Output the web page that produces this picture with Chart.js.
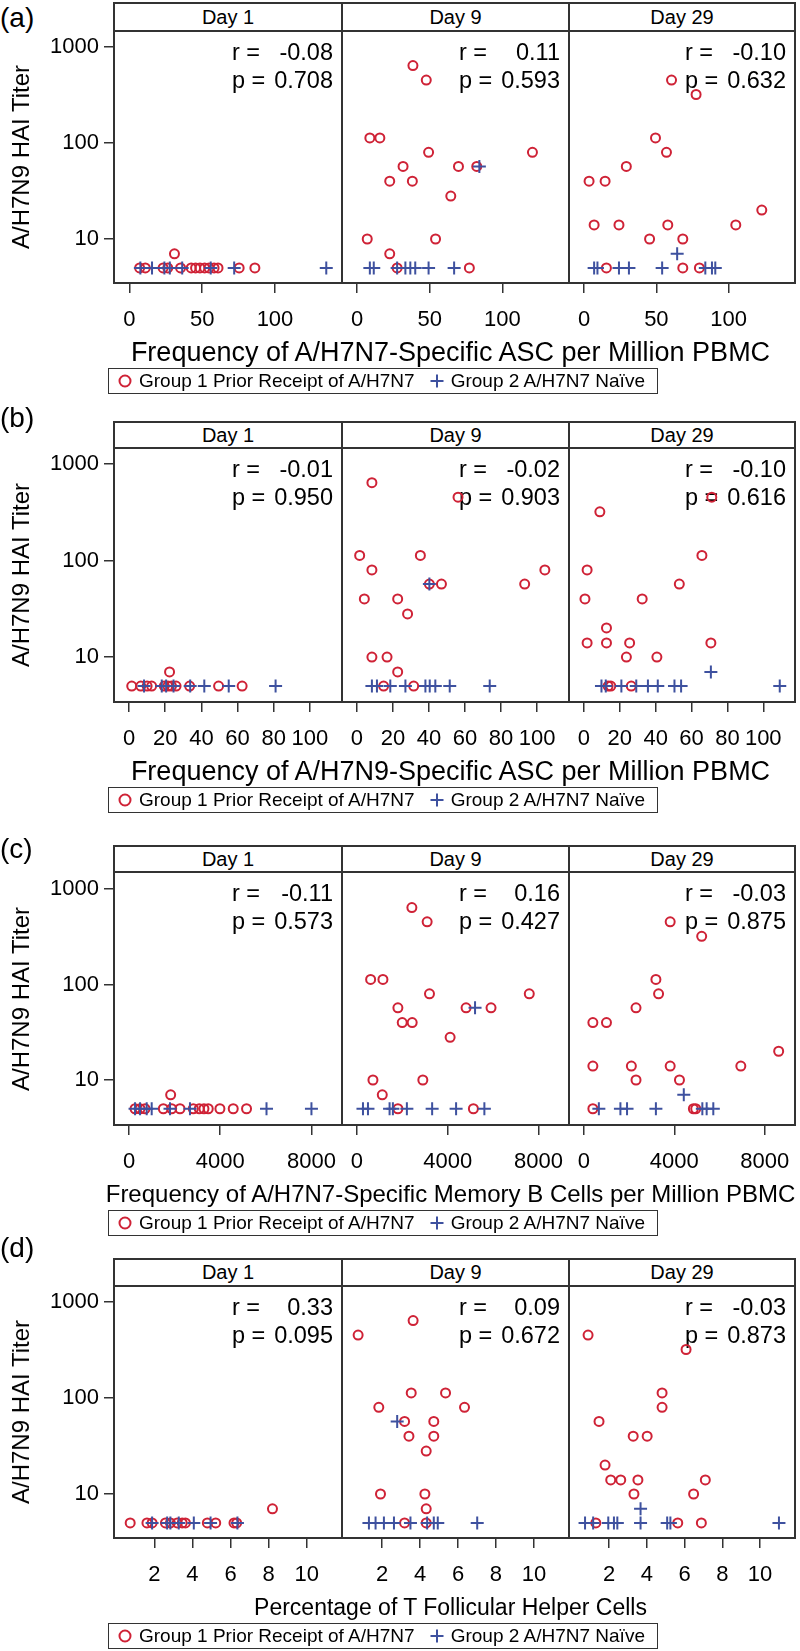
<!DOCTYPE html>
<html><head><meta charset="utf-8">
<script src="https://cdn.jsdelivr.net/npm/chart.js@4.4.0/dist/chart.umd.min.js"></script>
<style>
html,body{margin:0;padding:0;background:#fff}
body{width:800px;height:1651px;position:relative;overflow:hidden;font-family:"Liberation Sans",Arial,Helvetica,sans-serif;color:#000}
.hdr{position:absolute;box-sizing:border-box;border:2px solid #333;background:#fff;text-align:center;font-size:20px}
.rowlab{position:absolute;left:0;font-size:28px;line-height:28px}
.ytitle{position:absolute;font-size:24px;white-space:nowrap;transform:translate(-50%,-50%) rotate(-90deg);}
.xtitle{position:absolute;white-space:nowrap;transform:translate(-50%,-50%);}
.legend{position:absolute;box-sizing:border-box;border:1.5px solid #333;display:flex;align-items:center;font-size:19px;white-space:nowrap;padding-left:8px}
.legend span.item{display:flex;align-items:center;margin-right:14px}
.legend svg{margin-right:6px}
</style></head><body>
<script>
// ---------------- data ----------------
const dayLabels = ["Day 1", "Day 9", "Day 29"];
const rowLabels = ["(a)", "(b)", "(c)", "(d)"];
const xTitles = [
  "Frequency of A/H7N7-Specific ASC per Million PBMC",
  "Frequency of A/H7N9-Specific ASC per Million PBMC",
  "Frequency of A/H7N7-Specific Memory B Cells per Million PBMC",
  "Percentage of T Follicular Helper Cells"
];
const yTitle = "A/H7N9 HAI Titer";
const group1Label = "Group 1 Prior Receipt of A/H7N7";
const group2Label = "Group 2 A/H7N7 Naïve";
const rVals = [["-0.08", "0.11", "-0.10"], ["-0.01", "-0.02", "-0.10"], ["-0.11", "0.16", "-0.03"], ["0.33", "0.09", "-0.03"]];
const pVals = [["0.708", "0.593", "0.632"], ["0.950", "0.903", "0.616"], ["0.573", "0.427", "0.875"], ["0.095", "0.672", "0.873"]];
const xTicksA = [0, 50, 100];
const xTicksB = [0, 20, 40, 60, 80, 100];
const xTicksC = [0, 4000, 8000];
const xTicksD = [2, 4, 6, 8, 10];
const yTicks = [10, 100, 1000];

// (a) A/H7N7 ASC
const a1RedX = [7.1, 11, 23.2, 26.4, 31, 35.2, 42.5, 45.5, 48.5, 51.7, 54.7, 58.2, 60.9, 75.4, 86.2];
const a1RedY = [5, 5, 5, 5, 7, 5, 5, 5, 5, 5, 5, 5, 5, 5, 5];
const a1BlueX = [7.6, 15.6, 24.1, 27.8, 36.3, 55.9, 72, 135.2];
const a1BlueY = [5, 5, 5, 5, 5, 5, 5, 5];
const a9RedX = [38.4, 47.6, 8.7, 15.6, 49.2, 31.6, 69.8, 82.4, 120.8, 22.4, 38.0, 64.5, 6.9, 54.0, 22.4, 27.5, 77.3];
const a9RedY = [640, 453, 113, 113, 80, 57, 57, 57, 80, 40, 40, 28, 10, 10, 7, 5, 5];
const a9BlueX = [84.2, 8.7, 11.4, 27.5, 33.2, 36.6, 40.0, 49.2, 66.8];
const a9BlueY = [57, 5, 5, 5, 5, 5, 5, 5, 5];
const a29RedX = [60.5, 77.5, 49.4, 57, 29.2, 3.4, 14.5, 6.9, 24.1, 57.9, 105, 123, 45.3, 68.3, 15.4, 68.3, 79.8];
const a29RedY = [453, 320, 113, 80, 57, 40, 40, 14, 14, 14, 14, 20, 10, 10, 5, 5, 5];
const a29BlueX = [64.4, 6.9, 9.2, 24.1, 31, 54, 83.9, 88.5, 90.8];
const a29BlueY = [7, 5, 5, 5, 5, 5, 5, 5, 5];

// (b) A/H7N9 ASC
const b1RedX = [1.5, 6.5, 10, 12.5, 19.5, 21.5, 23.5, 26, 33.5, 49.5, 62.5, 22.4];
const b1RedY = [5, 5, 5, 5, 5, 5, 5, 5, 5, 5, 5, 7];
const b1BlueX = [8.3, 18.1, 20.5, 24.6, 33.8, 41.6, 55.1, 81];
const b1BlueY = [5, 5, 5, 5, 5, 5, 5, 5];
const b9RedX = [8.3, 56.1, 1.5, 35.2, 8.3, 104.3, 40.2, 46.9, 93.1, 4.1, 22.6, 28.1, 8.3, 16.7, 22.6, 14.8, 31.5];
const b9RedY = [640, 453, 113, 113, 80, 80, 57, 57, 57, 40, 40, 28, 10, 10, 7, 5, 5];
const b9BlueX = [40.2, 8.3, 11.1, 18.5, 26.9, 38, 40.4, 43.5, 51.5, 73.7];
const b9BlueY = [57, 5, 5, 5, 5, 5, 5, 5, 5, 5];
const b29RedX = [71.3, 8.9, 65.8, 1.8, 53.2, 0.6, 32.5, 12.6, 1.8, 12.6, 25.5, 70.8, 23.7, 40.7, 13.5, 15, 26.4];
const b29RedY = [453, 320, 113, 80, 57, 40, 40, 20, 14, 14, 14, 14, 10, 10, 5, 5, 5];
const b29BlueX = [70.8, 9.8, 12.2, 20.9, 29.2, 35.7, 41.2, 50.5, 54.2, 109.2];
const b29BlueY = [7, 5, 5, 5, 5, 5, 5, 5, 5, 5];

// (c) A/H7N7 memory B cells
const c1RedX = [263, 482, 701, 1504, 1869, 2234, 2818, 3080, 3285, 3474, 3985, 4569, 5153, 1825];
const c1RedY = [5, 5, 5, 5, 5, 5, 5, 5, 5, 5, 5, 5, 5, 7];
const c1BlueX = [263, 482, 774, 993, 1796, 2672, 6029, 8000];
const c1BlueY = [5, 5, 5, 5, 5, 5, 5, 5];
const c9RedX = [2418, 3091, 601, 1143, 3194, 7590, 1802, 4806, 5905, 1993, 2432, 4103, 703, 2901, 1114, 1802, 5128];
const c9RedY = [640, 453, 113, 113, 80, 80, 57, 57, 57, 40, 40, 28, 10, 10, 7, 5, 5];
const c9BlueX = [5201, 264, 484, 1436, 1582, 2198, 3311, 4366, 5612];
const c9BlueY = [57, 5, 5, 5, 5, 5, 5, 5, 5];
const c29RedX = [3817, 5211, 3185, 3303, 2305, 396, 998, 396, 2099, 3817, 6943, 8617, 2305, 4228, 396, 4844, 4947];
const c29RedY = [453, 320, 113, 80, 57, 40, 40, 14, 14, 14, 14, 20, 10, 10, 5, 5, 5];
const c29BlueX = [4419, 661, 1615, 1908, 3185, 5240, 5431, 5725];
const c29BlueY = [7, 5, 5, 5, 5, 5, 5, 5];

// (d) Tfh cells
const d1RedX = [0.73, 1.61, 1.88, 2.58, 2.84, 3.2, 3.46, 3.63, 4.78, 5.22, 6.18, 6.32, 8.2];
const d1RedY = [5, 5, 5, 5, 5, 5, 5, 5, 5, 5, 5, 5, 7];
const d1BlueX = [1.88, 2.67, 2.84, 3.28, 4.07, 4.95, 6.36];
const d1BlueY = [5, 5, 5, 5, 5, 5, 5];
const d9RedX = [3.63, 0.73, 3.53, 5.34, 1.82, 6.34, 3.18, 4.72, 3.41, 4.72, 4.32, 1.91, 4.25, 4.32, 3.18, 4.32];
const d9RedY = [640, 453, 113, 113, 80, 80, 57, 57, 40, 40, 28, 10, 10, 7, 5, 5];
const d9BlueX = [2.79, 1.3, 1.65, 2.09, 2.62, 3.49, 4.37, 4.72, 4.93, 7.01];
const d9BlueY = [57, 5, 5, 5, 5, 5, 5, 5, 5, 5];
const d29RedX = [0.89, 6.08, 4.81, 4.81, 1.47, 3.28, 4.02, 1.79, 2.09, 2.62, 3.53, 7.1, 3.32, 6.48, 1.3, 5.64, 6.89];
const d29RedY = [453, 320, 113, 80, 57, 40, 40, 20, 14, 14, 14, 14, 10, 10, 5, 5, 5];
const d29BlueX = [3.67, 0.73, 1.16, 1.96, 2.26, 2.44, 3.67, 5.08, 5.25, 11.0];
const d29BlueY = [7, 5, 5, 5, 5, 5, 5, 5, 5, 5];

// ---------------- assembly ----------------
const panelData = [
  [[a1RedX, a1RedY, a1BlueX, a1BlueY], [a9RedX, a9RedY, a9BlueX, a9BlueY], [a29RedX, a29RedY, a29BlueX, a29BlueY]],
  [[b1RedX, b1RedY, b1BlueX, b1BlueY], [b9RedX, b9RedY, b9BlueX, b9BlueY], [b29RedX, b29RedY, b29BlueX, b29BlueY]],
  [[c1RedX, c1RedY, c1BlueX, c1BlueY], [c9RedX, c9RedY, c9BlueX, c9BlueY], [c29RedX, c29RedY, c29BlueX, c29BlueY]],
  [[d1RedX, d1RedY, d1BlueX, d1BlueY], [d9RedX, d9RedY, d9BlueX, d9BlueY], [d29RedX, d29RedY, d29BlueX, d29BlueY]]
];
const xTickSets = [xTicksA, xTicksB, xTicksC, xTicksD];

// layout / style
const RED = "#cf2236", BLUE = "#3e519f", FRAME = "#333";
const PANEL_X = [114, 342, 569, 795];
const X_AXIS_H = 60;
const ROWS = [
  {labelTop: 4,    headerTop: 3,    plotTop: 31,   plotBottom: 283,  xMin: -10.5, xMax: 146,   yMin: 3.48, yMax: 1468, titleSize: 27},
  {labelTop: 404,  headerTop: 422,  plotTop: 448,  plotBottom: 702,  xMin: -8.3,  xMax: 117.7, yMin: 3.42, yMax: 1466, titleSize: 27},
  {labelTop: 835,  headerTop: 846,  plotTop: 872,  plotBottom: 1125, xMin: -660,  xMax: 9340,  yMin: 3.38, yMax: 1507, titleSize: 24},
  {labelTop: 1234, headerTop: 1259, plotTop: 1286, plotBottom: 1538, xMin: -0.12, xMax: 11.85, yMin: 3.48, yMax: 1468, titleSize: 23}
];

Chart.defaults.font.family = "'Liberation Sans', Arial, Helvetica, sans-serif";
Chart.defaults.color = "#000";

const framePlugin = {
  id: "frame",
  afterDraw(chart) {
    const {ctx, chartArea: a} = chart;
    ctx.save();
    ctx.strokeStyle = FRAME; ctx.lineWidth = 2;
    ctx.strokeRect(a.left, a.top, a.right - a.left, a.bottom - a.top);
    ctx.restore();
  }
};
const statsPlugin = {
  id: "stats",
  beforeDatasetsDraw(chart, args, opts) {
    const {ctx, chartArea: a} = chart;
    ctx.save();
    ctx.fillStyle = "#000";
    ctx.font = "23.5px 'Liberation Sans', Arial, sans-serif";
    ctx.textBaseline = "alphabetic";
    ctx.textAlign = "left";
    ctx.fillText("r =", a.right - 110, a.top + 29);
    ctx.fillText("p =", a.right - 110, a.top + 57);
    ctx.textAlign = "right";
    ctx.fillText(opts.r, a.right - 9, a.top + 29);
    ctx.fillText(opts.p, a.right - 9, a.top + 57);
    ctx.restore();
  }
};

function pts(xs, ys) { return xs.map((x, i) => ({x: x, y: ys[i]})); }

function addDiv(cls, text, css) {
  const d = document.createElement("div");
  d.className = cls; d.textContent = text; d.style.cssText = css;
  document.body.appendChild(d);
  return d;
}

function makePanel(r, c) {
  const g = ROWS[r];
  const yW = c === 0 ? PANEL_X[0] : 0;
  const left = PANEL_X[c] - yW;
  const w = PANEL_X[c + 1] - left + 2;
  const h = g.plotBottom - g.plotTop + 2 + X_AXIS_H;
  const cv = document.createElement("canvas");
  cv.width = w; cv.height = h;
  cv.style.cssText = `position:absolute;left:${left}px;top:${g.plotTop - 2}px;width:${w}px;height:${h}px`;
  document.body.appendChild(cv);
  const [rx, ry, bx, by] = panelData[r][c];
  const ticksX = xTickSets[r];
  new Chart(cv, {
    type: "scatter",
    data: {datasets: [
      {label: group1Label, data: pts(rx, ry), pointStyle: "circle", pointRadius: 4.5, borderColor: RED,
       backgroundColor: "rgba(0,0,0,0)", borderWidth: 2, order: 2, clip: false},
      {label: group2Label, data: pts(bx, by), pointStyle: "cross", pointRadius: 6.5, borderColor: BLUE,
       backgroundColor: BLUE, borderWidth: 2, order: 1, clip: false}
    ]},
    options: {
      responsive: false, animation: false, devicePixelRatio: 1,
      layout: {autoPadding: false, padding: {top: 2, right: 2, left: 0, bottom: 0}},
      events: [],
      plugins: {legend: {display: false}, tooltip: {enabled: false}, title: {display: false},
                stats: {r: rVals[r][c], p: pVals[r][c]}},
      scales: {
        x: {
          type: "linear", min: g.xMin, max: g.xMax,
          afterBuildTicks: s => { s.ticks = ticksX.map(v => ({value: v})); },
          afterFit: s => { s.height = X_AXIS_H; s.paddingLeft = 0; s.paddingRight = 0; },
          grid: {drawOnChartArea: false, drawTicks: true, tickLength: 10, color: FRAME, lineWidth: 1.5},
          border: {display: false},
          ticks: {padding: 14, font: {size: 22}, color: "#000", maxRotation: 0, autoSkip: false,
                  callback: v => String(v)}
        },
        y: {
          type: "logarithmic", display: c === 0, min: g.yMin, max: g.yMax,
          afterBuildTicks: s => { s.ticks = yTicks.map(v => ({value: v})); },
          afterFit: s => { s.width = yW; s.paddingTop = 0; s.paddingBottom = 0; },
          grid: {drawOnChartArea: false, drawTicks: true, tickLength: 10, color: FRAME, lineWidth: 1.5},
          border: {display: false},
          ticks: {padding: 5, font: {size: 22}, color: "#000", autoSkip: false, callback: v => String(v)}
        }
      }
    },
    plugins: [framePlugin, statsPlugin]
  });
}

function legendSymbol(kind) {
  const ns = "http://www.w3.org/2000/svg";
  const s = document.createElementNS(ns, "svg");
  s.setAttribute("width", "16"); s.setAttribute("height", "16");
  if (kind === "circle") {
    const e = document.createElementNS(ns, "circle");
    e.setAttribute("cx", "8"); e.setAttribute("cy", "8"); e.setAttribute("r", "5.5");
    e.setAttribute("fill", "none"); e.setAttribute("stroke", RED); e.setAttribute("stroke-width", "2");
    s.appendChild(e);
  } else {
    const p = document.createElementNS(ns, "path");
    p.setAttribute("d", "M1.5 8 H14.5 M8 1.5 V14.5");
    p.setAttribute("stroke", BLUE); p.setAttribute("stroke-width", "2");
    s.appendChild(p);
  }
  return s;
}

ROWS.forEach((g, r) => {
  addDiv("rowlab", rowLabels[r], `top:${g.labelTop}px`);
  dayLabels.forEach((d, c) => {
    const hh = g.plotTop - g.headerTop + 2;
    addDiv("hdr", d, `left:${PANEL_X[c] - 1}px;top:${g.headerTop - 1}px;width:${PANEL_X[c + 1] - PANEL_X[c] + 2}px;height:${hh}px;line-height:${hh - 4}px`);
  });
  for (let c = 0; c < 3; c++) makePanel(r, c);
  addDiv("ytitle", yTitle, `left:21px;top:${(g.plotTop + g.plotBottom) / 2}px`);
  addDiv("xtitle", xTitles[r], `left:${(PANEL_X[0] + PANEL_X[3]) / 2 - 4}px;top:${g.plotBottom + 69}px;font-size:${g.titleSize}px`);
  const lg = addDiv("legend", "", `left:${PANEL_X[0] - 6}px;top:${g.plotBottom + 85}px;height:26px;width:550px`);
  [[group1Label, "circle"], [group2Label, "cross"]].forEach(([t, k]) => {
    const it = document.createElement("span"); it.className = "item";
    it.appendChild(legendSymbol(k));
    const tx = document.createElement("span"); tx.textContent = t;
    it.appendChild(tx); lg.appendChild(it);
  });
});
</script>
</body></html>
